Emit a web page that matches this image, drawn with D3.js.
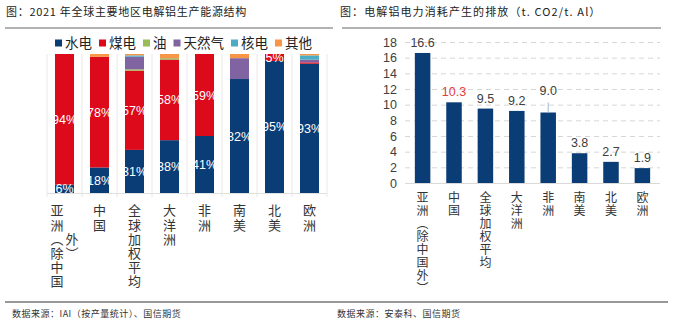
<!DOCTYPE html>
<html>
<head>
<meta charset="utf-8">
<script src="https://cdn.jsdelivr.net/npm/d3@7"></script>
<style>
  body { margin: 0; background: #fff; }
  svg { display: block; }
  .vlabel { writing-mode: vertical-rl; text-orientation: mixed; }
</style>
</head>
<body>
<svg id="chart" width="673" height="327"></svg>
<script>
// ---- data: left chart (energy structure, %) ----
const regions = ['亚洲（除中国外）', '中国', '全球加权平均', '大洋洲', '非洲', '南美', '北美', '欧洲'];
// vertical labels, one string per column (ideographic spaces keep the row offset)
const regionLabelCols = [['亚洲（除中国', '　　外）'], ['中国'], ['全球加权平均'], ['大洋洲'], ['非洲'], ['南美'], ['北美'], ['欧洲']];
const energyTypes = ['水电', '煤电', '油', '天然气', '核电', '其他'];
const hydro   = [6, 18, 31, 38, 41, 82, 95, 93];
const coal    = [94, 78, 57, 58, 59, 0, 5, 1];
const oil     = [0, 0, 1, 1, 0, 0, 0, 0];
const gas     = [0, 0, 9, 0, 0, 15, 0, 2];
const nuclear = [0, 0, 1, 0, 0, 0, 0, 3];
const other   = [0, 2, 1, 3, 0, 3, 0, 1];
const energyColors = ['#0a3d76', '#dc0a1a', '#9bbb59', '#8064a2', '#4bacc6', '#f79646'];

// ---- data: right chart (t.CO2/t.Al) ----
const emissionLabels = ['亚洲（除中国外）', '中国', '全球加权平均', '大洋洲', '非洲', '南美', '北美', '欧洲'];
const emissions = [16.6, 10.3, 9.5, 9.2, 9.0, 3.8, 2.7, 1.9];
const emissionTicks = [0, 2, 4, 6, 8, 10, 12, 14, 16, 18];

const svg = d3.select('#chart');
const cjk = '"Noto Sans CJK SC", "Noto Sans", sans-serif';
const latin = '"Liberation Sans", Arial, sans-serif';

// a column of vertical text, top at y
function vText(g, str, x, y, size, spacing) {
  g.append('text')
    .attr('class', 'vlabel')
    .attr('x', x).attr('y', y)
    .attr('font-family', cjk).attr('font-size', size)
    .attr('letter-spacing', spacing).attr('fill', '#333')
    .text(str);
}

// titles, rules, sources
svg.append('text').attr('x', 6).attr('y', 16)
  .attr('font-family', cjk).attr('font-size', 11).attr('letter-spacing', 0.7).attr('fill', '#222')
  .text('图：2021 年全球主要地区电解铝生产能源结构');
svg.append('text').attr('x', 340).attr('y', 16)
  .attr('font-family', cjk).attr('font-size', 11).attr('letter-spacing', 1.1).attr('fill', '#222')
  .text('图：电解铝电力消耗产生的排放（t. CO2/t. Al）');

svg.append('line').attr('x1', 5).attr('x2', 333).attr('y1', 28).attr('y2', 28)
  .attr('stroke', '#999').attr('stroke-width', 1.5);
svg.append('line').attr('x1', 342).attr('x2', 661).attr('y1', 28).attr('y2', 28)
  .attr('stroke', '#999').attr('stroke-width', 1.5);
svg.append('line').attr('x1', 5).attr('x2', 668).attr('y1', 302).attr('y2', 302)
  .attr('stroke', '#333').attr('stroke-width', 1);

svg.append('text').attr('x', 12).attr('y', 317)
  .attr('font-family', cjk).attr('font-size', 9).attr('letter-spacing', 0.5).attr('fill', '#333')
  .text('数据来源：IAI（按产量统计）、国信期货');
svg.append('text').attr('x', 337).attr('y', 317)
  .attr('font-family', cjk).attr('font-size', 9).attr('letter-spacing', 0.5).attr('fill', '#333')
  .text('数据来源：安泰科、国信期货');

// ================= left: 100% stacked bars =================
const rows = regions.map((r, i) => ({
  region: r, '水电': hydro[i], '煤电': coal[i], '油': oil[i],
  '天然气': gas[i], '核电': nuclear[i], '其他': other[i]
}));
const stacked = d3.stack().keys(energyTypes).offset(d3.stackOffsetExpand)(rows);

const xL = d3.scaleBand().domain(regions).range([47, 327]).paddingInner(0.457).paddingOuter(0.2285);
const yL = d3.scaleLinear().domain([0, 1]).range([193, 54]);
const colorL = d3.scaleOrdinal().domain(energyTypes).range(energyColors);

const left = svg.append('g');

// category separators + baseline
const step = xL.step();
const edges = d3.range(regions.length + 1).map(k => xL.range()[0] + k * step);
left.append('g').selectAll('line').data(edges).join('line')
  .attr('x1', d => d).attr('x2', d => d).attr('y1', 54).attr('y2', 197)
  .attr('stroke', '#e8e8e8').attr('stroke-width', 1);
left.append('line').attr('x1', 47).attr('x2', 327).attr('y1', 193.5).attr('y2', 193.5)
  .attr('stroke', '#e0e0e0');

left.append('g').selectAll('g').data(stacked).join('g')
  .attr('fill', d => colorL(d.key))
  .selectAll('rect').data(d => d).join('rect')
  .attr('x', d => xL(d.data.region))
  .attr('width', xL.bandwidth())
  .attr('y', d => yL(d[1]))
  .attr('height', d => Math.max(0, yL(d[0]) - yL(d[1])));

// percent labels for hydro and coal
const labelSeries = stacked.filter(s => s.key === '水电' || s.key === '煤电');
left.append('g').selectAll('g').data(labelSeries).join('g')
  .selectAll('text').data(s => s.map(d => ({ d, v: d.data[s.key] })).filter(o => o.v >= 5)).join('text')
  .attr('x', o => xL(o.d.data.region) + xL.bandwidth() / 2)
  .attr('y', o => (yL(o.d[0]) + yL(o.d[1])) / 2)
  .attr('dy', '0.36em')
  .attr('text-anchor', 'middle')
  .attr('font-family', latin).attr('font-size', 12.5).attr('fill', '#fff')
  .text(o => o.v + '%');

// legend
const legend = left.append('g').attr('transform', 'translate(55,43)');
let lx = 0;
energyTypes.forEach(k => {
  const item = legend.append('g').attr('transform', `translate(${lx},0)`);
  item.append('rect').attr('x', 0).attr('y', -3.5).attr('width', 7).attr('height', 7).attr('fill', colorL(k));
  const t = item.append('text').attr('x', 10).attr('y', 0).attr('dy', '0.36em')
    .attr('font-family', cjk).attr('font-size', 13.5).attr('fill', '#222').text(k);
  lx += 10 + t.node().getComputedTextLength() + 7;
});

// vertical category labels
const leftLabels = left.append('g');
regions.forEach((r, i) => {
  const cols = regionLabelCols[i];
  const cx = xL(r) + xL.bandwidth() / 2;
  cols.forEach((col, c) => {
    const x = cx + (c - (cols.length - 1) / 2) * 15;
    vText(leftLabels, col, x, 204, 13, 1.2);
  });
});

// ================= right: emission bars =================
const xR = d3.scaleBand().domain(emissionLabels).range([407, 658]).paddingInner(0.506).paddingOuter(0.25);
const yR = d3.scaleLinear().domain([0, 18]).range([183, 42]);

const right = svg.append('g');

right.append('g').selectAll('line').data(emissionTicks.filter(t => t > 0)).join('line')
  .attr('x1', 405).attr('x2', 660)
  .attr('y1', d => yR(d) + 0.5).attr('y2', d => yR(d) + 0.5)
  .attr('stroke', '#d6d6d6').attr('stroke-dasharray', '5,4');
right.append('line').attr('x1', 405).attr('x2', 660).attr('y1', yR(0) + 0.5).attr('y2', yR(0) + 0.5)
  .attr('stroke', '#d9d9d9');

const yAxis = right.append('g').attr('transform', 'translate(405,0)')
  .call(d3.axisLeft(yR).tickValues(emissionTicks).tickSize(0).tickPadding(8));
yAxis.select('.domain').remove();
yAxis.selectAll('text').attr('font-family', latin).attr('font-size', 12.5).attr('fill', '#404040');

right.append('g').selectAll('rect').data(emissions).join('rect')
  .attr('x', (d, i) => xR(emissionLabels[i]))
  .attr('width', xR.bandwidth())
  .attr('y', d => yR(d))
  .attr('height', d => yR(0) - yR(d))
  .attr('fill', '#0a3d76');

// value labels; 非洲 label sits higher with a leader line, 中国 is highlighted
const lift = i => (i === 4 ? 12 : 0);
right.append('g').selectAll('text').data(emissions).join('text')
  .attr('x', (d, i) => xR(emissionLabels[i]) + xR.bandwidth() / 2)
  .attr('y', (d, i) => yR(d) - 6 - lift(i))
  .attr('text-anchor', 'middle')
  .attr('font-family', latin).attr('font-size', 12.5)
  .attr('fill', (d, i) => (emissionLabels[i] === '中国' ? '#e04040' : '#404040'))
  .text(d => d.toFixed(1));
right.append('g').selectAll('line').data(emissions.filter((d, i) => lift(i) > 0)).join('line')
  .attr('x1', xR(emissionLabels[4]) + xR.bandwidth() / 2)
  .attr('x2', xR(emissionLabels[4]) + xR.bandwidth() / 2)
  .attr('y1', d => yR(d) - 10).attr('y2', d => yR(d))
  .attr('stroke', '#9db8d8').attr('stroke-width', 1);

// vertical category labels
const rightLabels = right.append('g');
emissionLabels.forEach(lbl => {
  vText(rightLabels, lbl, xR(lbl) + xR.bandwidth() / 2, 191, 12, 1);
});
</script>
</body>
</html>
